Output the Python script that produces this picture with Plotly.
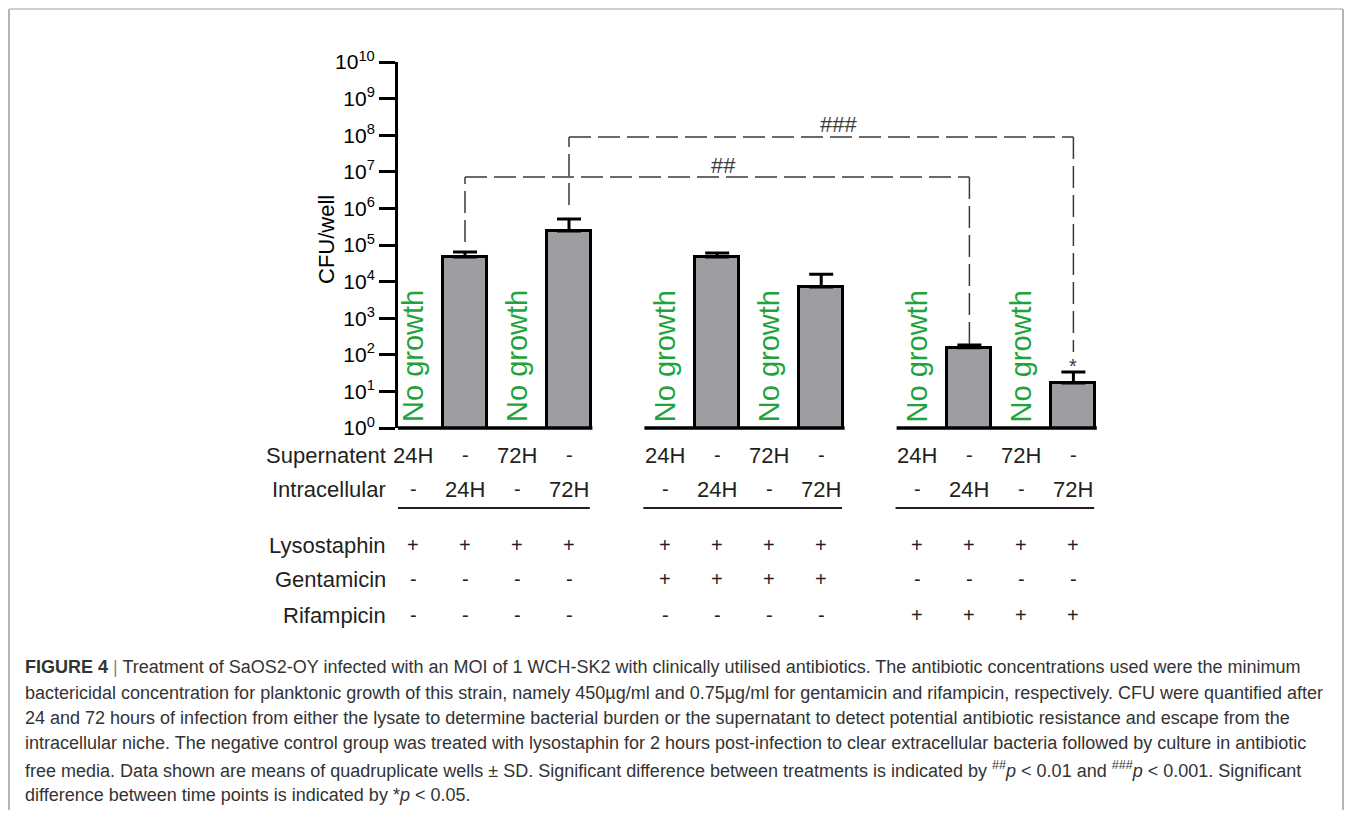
import plotly.graph_objects as go

# ---------------- data ----------------
bar_labels = ["S24", "I24", "S72", "I72",
              "G-S24", "G-I24", "G-S72", "G-I72",
              "R-S24", "R-I24", "R-S72", "R-I72"]
cfu_mean = [None, 4.7e4, None, 2.4e5,
            None, 4.7e4, None, 7.1e3,
            None, 155, None, 17]
cfu_upper = [None, 6.4e4, None, 5.1e5,
             None, 6.0e4, None, 1.6e4,
             None, 186, None, 34]
no_growth = [True, False, True, False,
             True, False, True, False,
             True, False, True, False]

supernatent = ["24H", "-", "72H", "-", "24H", "-", "72H", "-", "24H", "-", "72H", "-"]
intracellular = ["-", "24H", "-", "72H", "-", "24H", "-", "72H", "-", "24H", "-", "72H"]
lysostaphin = ["+", "+", "+", "+", "+", "+", "+", "+", "+", "+", "+", "+"]
gentamicin = ["-", "-", "-", "-", "+", "+", "+", "+", "-", "-", "-", "-"]
rifampicin = ["-", "-", "-", "-", "-", "-", "-", "-", "+", "+", "+", "+"]

tick_exps = [0, 1, 2, 3, 4, 5, 6, 7, 8, 9, 10]

caption_lines = [
    "<b>FIGURE 4</b> <span style='color:#888'>|</span> Treatment of SaOS2-OY infected with an MOI of 1 WCH-SK2 with clinically utilised antibiotics. The antibiotic concentrations used were the minimum",
    "bactericidal concentration for planktonic growth of this strain, namely 450µg/ml and 0.75µg/ml for gentamicin and rifampicin, respectively. CFU were quantified after",
    "24 and 72 hours of infection from either the lysate to determine bacterial burden or the supernatant to detect potential antibiotic resistance and escape from the",
    "intracellular niche. The negative control group was treated with lysostaphin for 2 hours post-infection to clear extracellular bacteria followed by culture in antibiotic",
    "free media. Data shown are means of quadruplicate wells ± SD. Significant difference between treatments is indicated by <sup>##</sup><i>p</i> &lt; 0.01 and <sup>###</sup><i>p</i> &lt; 0.001. Significant",
    "difference between time points is indicated by *<i>p</i> &lt; 0.05.",
]

# ---------------- layout helpers ----------------
OFF = 8                      # body margin of the html page
FIG_W, FIG_H = 1338, 802
L, R, T, B = 398, 1110, 62, 428   # plot area in page pixels
SLOT = 52.0
GROUP_STEP = 4.85
X0_PAGE = 413


def pxp(px):
    return (px - L) / (R - L)


def pyp(py):
    return (B - py) / (B - T)


positions = [g * GROUP_STEP + i for g in range(3) for i in range(4)]
x_lo = (L - X0_PAGE) / SLOT
x_hi = (R - X0_PAGE) / SLOT

FONT = "Liberation Sans, Arial, sans-serif"
TXT = "#231f20"

fig = go.Figure()

err_plus = [(u - m) if (m is not None and u is not None) else None for m, u in zip(cfu_mean, cfu_upper)]
err_minus = [0 if m is not None else None for m in cfu_mean]

fig.add_trace(go.Bar(
    x=positions, y=cfu_mean, width=0.846,
    marker=dict(color="#9d9da2", line=dict(color="black", width=3)),
    error_y=dict(type="data", symmetric=False, array=err_plus, arrayminus=err_minus,
                 color="black", thickness=3, width=12),
    hovertext=bar_labels, showlegend=False,
))

shapes = []
annotations = []

# baseline segments under each group
for g in range(3):
    x_start = g * GROUP_STEP - 0.4 if g > 0 else x_lo
    shapes.append(dict(type="line", xref="x", yref="paper",
                       x0=x_start, x1=g * GROUP_STEP + 3.45, y0=0, y1=0,
                       line=dict(color="black", width=3.5)))
    # separator line between condition rows
    shapes.append(dict(type="line", xref="x", yref="paper",
                       x0=g * GROUP_STEP - 0.42, x1=g * GROUP_STEP + 3.4,
                       y0=pyp(508), y1=pyp(508),
                       line=dict(color=TXT, width=2)))

# significance brackets
DASH = "22px,7px"
BR_COL = "#3a3a3a"


def bracket(i0, i1, y_top, y0_left, y0_right):
    xa, xb = positions[i0], positions[i1]
    shapes.append(dict(type="line", xref="x", yref="paper", x0=xa, x1=xa,
                       y0=y0_left, y1=y_top, line=dict(color=BR_COL, width=1.5, dash=DASH)))
    shapes.append(dict(type="line", xref="x", yref="paper", x0=xa, x1=xb,
                       y0=y_top, y1=y_top, line=dict(color=BR_COL, width=1.5, dash=DASH)))
    shapes.append(dict(type="line", xref="x", yref="paper", x0=xb, x1=xb,
                       y0=y_top, y1=y0_right, line=dict(color=BR_COL, width=1.5, dash=DASH)))


bracket(1, 9, pyp(177), pyp(242), pyp(345))
bracket(3, 11, pyp(137), pyp(205), pyp(352))

annotations.append(dict(text="##", xref="paper", yref="paper", x=pxp(723), y=pyp(165),
                        xanchor="center", yanchor="middle",
                        showarrow=False, font=dict(family=FONT, size=22, color=BR_COL)))
annotations.append(dict(text="###", xref="paper", yref="paper", x=pxp(838), y=pyp(125),
                        xanchor="center", yanchor="middle",
                        showarrow=False, font=dict(family=FONT, size=22, color=BR_COL)))
annotations.append(dict(text="*", xref="x", yref="paper", x=positions[11], y=pyp(366),
                        xanchor="center", yanchor="middle",
                        showarrow=False, font=dict(family=FONT, size=20, color=BR_COL)))

# "No growth" labels
for p, ng in zip(positions, no_growth):
    if ng:
        annotations.append(dict(text="No growth", xref="x", yref="paper", x=p, y=pyp(424),
                                xanchor="center", yanchor="bottom", textangle=-90,
                                showarrow=False, font=dict(family=FONT, size=29, color="#1fa33a")))

# y-axis title
annotations.append(dict(text="CFU/well", xref="paper", yref="paper", x=pxp(326), y=pyp(240),
                        xanchor="center", yanchor="middle",
                        textangle=-90, showarrow=False, font=dict(family=FONT, size=22, color="black")))

# condition table
rows = [("Supernatent", supernatent, 455),
        ("Intracellular", intracellular, 489),
        ("Lysostaphin", lysostaphin, 545),
        ("Gentamicin", gentamicin, 579),
        ("Rifampicin", rifampicin, 615)]
for name, vals, ypx in rows:
    annotations.append(dict(text=name, xref="paper", yref="paper", x=pxp(388), y=pyp(ypx),
                            xanchor="right", yanchor="middle", showarrow=False,
                            font=dict(family=FONT, size=22, color=TXT)))
    for p, v in zip(positions, vals):
        annotations.append(dict(text=v, xref="x", yref="paper", x=p, y=pyp(ypx),
                                xanchor="center", yanchor="middle", showarrow=False,
                                font=dict(family=FONT, size=22 if v not in ("+", "-") else 20, color=TXT)))

# caption
cap_y = [667, 693, 718, 743, 769, 795]
for line, ypx in zip(caption_lines, cap_y):
    annotations.append(dict(text=line, xref="paper", yref="paper", x=pxp(23), y=pyp(ypx),
                            xanchor="left", yanchor="middle", showarrow=False, align="left",
                            font=dict(family=FONT, size=18, color="#333333")))

# frame around figure panel
frame_col = "#b4b4b4"
shapes.append(dict(type="line", xref="paper", yref="paper", x0=pxp(9), x1=pxp(9),
                   y0=pyp(9), y1=pyp(830), line=dict(color=frame_col, width=2)))
shapes.append(dict(type="line", xref="paper", yref="paper", x0=pxp(9), x1=pxp(1343),
                   y0=pyp(9), y1=pyp(9), line=dict(color="#cfcfcf", width=2)))
shapes.append(dict(type="line", xref="paper", yref="paper", x0=pxp(1343), x1=pxp(1343),
                   y0=pyp(9), y1=pyp(830), line=dict(color=frame_col, width=2)))

fig.update_layout(
    width=FIG_W, height=FIG_H, autosize=False,
    margin=dict(l=L - OFF, r=FIG_W - (R - OFF), t=T - OFF, b=FIG_H - (B - OFF), pad=0),
    plot_bgcolor="white", paper_bgcolor="white",
    shapes=shapes, annotations=annotations,
    xaxis=dict(range=[x_lo, x_hi], visible=False, fixedrange=True),
    yaxis=dict(type="log", range=[0, 10], showline=True, linecolor="black", linewidth=3,
               ticks="outside", ticklen=16, tickwidth=3, tickcolor="black",
               tickvals=[10 ** k for k in tick_exps],
               ticktext=["10<sup>%d</sup>" % k for k in tick_exps],
               tickfont=dict(family=FONT, size=21, color="black"),
               showgrid=False, zeroline=False, fixedrange=True),
    bargap=0,
)

fig.write_html("out.html")
